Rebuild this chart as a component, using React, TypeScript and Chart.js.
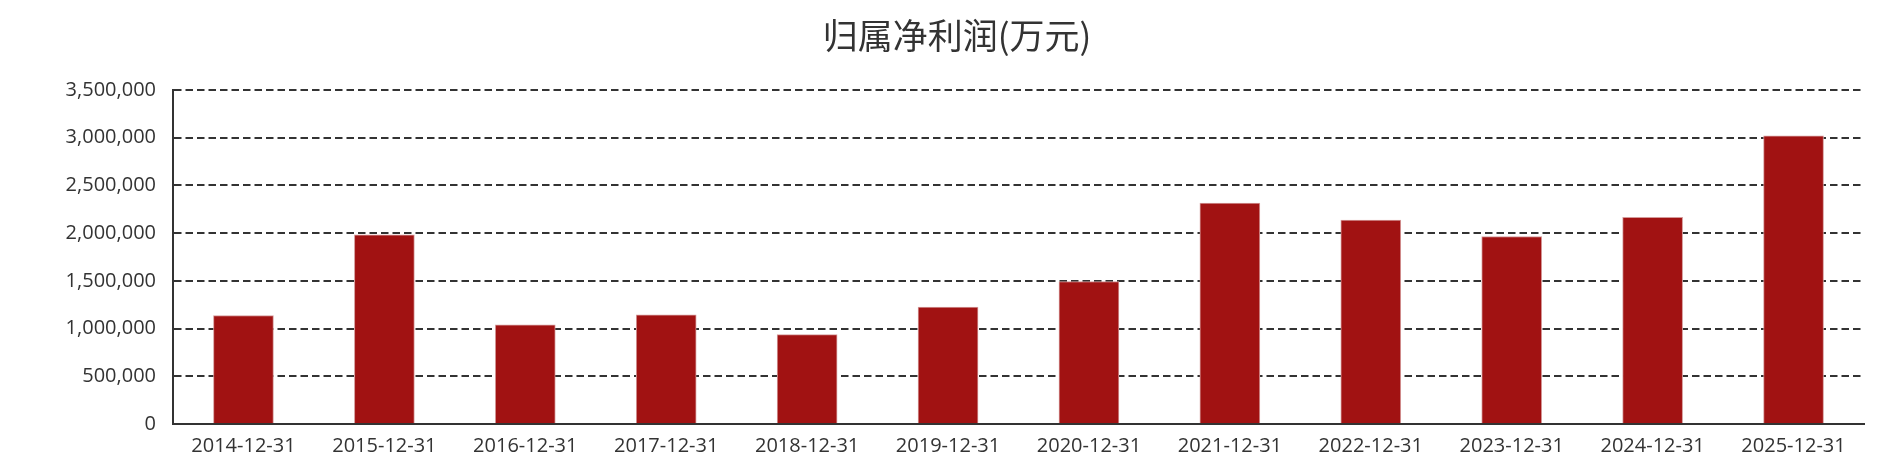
import { useRef, useEffect } from "react";
import Chart from "chart.js/auto";

const categories = [
  "2014-12-31",
  "2015-12-31",
  "2016-12-31",
  "2017-12-31",
  "2018-12-31",
  "2019-12-31",
  "2020-12-31",
  "2021-12-31",
  "2022-12-31",
  "2023-12-31",
  "2024-12-31",
  "2025-12-31",
];
const netProfit = [
  1137000, 1983000, 1039000, 1144000, 937000, 1225000, 1493000, 2316000,
  2137000, 1965000, 2165000, 3021000,
];
const chartTitle = "归属净利润(万元)";
const yMax = 3500000;
const yStep = 500000;

const TITLE_FONT = "'Noto Sans CJK SC', sans-serif";
const TICK_FONT = "'Open Sans', 'Noto Sans', sans-serif";

const App = () => {
  const canvasRef = useRef<HTMLCanvasElement | null>(null);

  useEffect(() => {
    const ctx = canvasRef.current?.getContext("2d");
    if (!ctx) return;

    const myChart = new Chart(ctx, {
      type: "bar",
      data: {
        labels: categories,
        datasets: [
          {
            label: chartTitle,
            data: netProfit,
            backgroundColor: "#a11212",
            borderColor: "#d59a9a",
            borderWidth: 1,
            barThickness: 60,
          },
        ],
      },
      options: {
        animation: false,
        responsive: true,
        maintainAspectRatio: false,
        // left padding shifts the title centre to where the original has it
        layout: { padding: { left: 50, right: 23, top: 0, bottom: 0 } },
        plugins: {
          legend: { display: false },
          tooltip: { enabled: false },
          title: {
            display: true,
            text: chartTitle,
            color: "#333",
            font: { family: TITLE_FONT, size: 35, weight: "normal" },
            padding: { top: 15, bottom: 33 },
          },
        },
        scales: {
          x: {
            grid: { display: false, drawTicks: false },
            border: { display: true, color: "#333", width: 2 },
            ticks: {
              color: "#333",
              font: { family: TICK_FONT, size: 20 },
              padding: 10,
              maxRotation: 0,
              autoSkip: false,
            },
            afterFit: (scale: any) => {
              scale.height = 49;
            },
          },
          y: {
            min: 0,
            max: yMax,
            grid: {
              color: "#333",
              lineWidth: 2,
              drawTicks: false,
            },
            border: { display: true, color: "#333", width: 2, dash: [7.5, 4] },
            ticks: {
              stepSize: yStep,
              color: "#333",
              font: { family: TICK_FONT, size: 20 },
              padding: 17,
              callback: (v: any) => Number(v).toLocaleString("en-US"),
            },
            afterFit: (scale: any) => {
              scale.width = 123;
            },
          },
        },
      },
    });

    return () => {
      myChart.destroy();
    };
  }, []);

  return (
    <div
      style={{
        position: "fixed",
        left: 0,
        top: 0,
        width: 1887,
        height: 473,
        background: "#fff",
      }}
    >
      <canvas ref={canvasRef}></canvas>
    </div>
  );
};

export default App;
